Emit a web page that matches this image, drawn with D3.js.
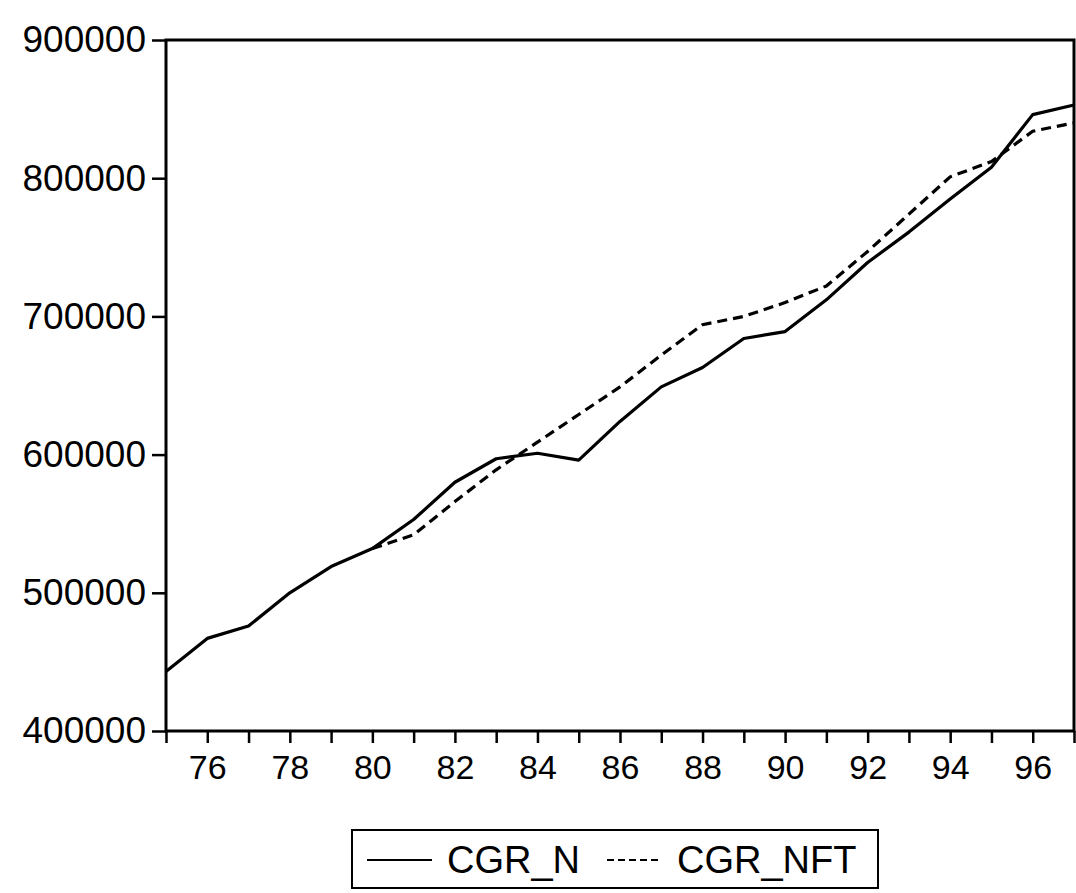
<!DOCTYPE html>
<html>
<head>
<meta charset="utf-8">
<script src="https://cdn.jsdelivr.net/npm/d3@7"></script>
<style>
  body { margin: 0; background: #fff; }
  text { font-family: "Liberation Sans", Arial, sans-serif; fill: #000; }
</style>
</head>
<body>
<div id="chart"></div>
<script>
// years (two-digit, as printed)
const years = d3.range(75, 98);
// CGR_N (solid)
const cgrN = [443000, 467000, 476000, 500000, 519000, 532000, 553000, 580000, 597000, 601000,
  596000, 624000, 649000, 663000, 684000, 689000, 712000, 739000, 761000, 785000, 808000, 846000, 853000];
// CGR_NFT (dashed), starts in 80
const nftYears = d3.range(80, 98);
const cgrNft = [532000, 542000, 566000, 589000, 609000, 629000, 649000, 672000, 694000, 700000,
  710000, 722000, 747000, 774000, 801000, 812000, 834000, 840000];
const yTicks = [400000, 500000, 600000, 700000, 800000, 900000];
const xLabels = [76, 78, 80, 82, 84, 86, 88, 90, 92, 94, 96];
const legendNames = ["CGR_N", "CGR_NFT"];

const W = 1076, H = 893;
const margin = { top: 40, right: 2, bottom: 162, left: 166 };
const width = W - margin.left - margin.right,
  height = H - margin.top - margin.bottom;

const svg = d3.select("#chart").append("svg")
  .attr("width", W).attr("height", H);
const g = svg.append("g")
  .attr("transform", `translate(${margin.left},${margin.top})`);

const x = d3.scaleLinear().domain([75, 97]).range([0, width]);
const y = d3.scaleLinear().domain([400000, 900000]).range([height, 0]);

// y axis
const yAxis = g.append("g")
  .call(d3.axisLeft(y).tickValues(yTicks).tickFormat(d3.format("d")).tickSize(14).tickPadding(6));
yAxis.selectAll("text").style("font-size", "37px");

// x axis: ticks every year, labels every 2 years
const xAxis = g.append("g")
  .attr("transform", `translate(0,${height})`)
  .call(d3.axisBottom(x).tickValues(years).tickSize(12).tickPadding(12)
    .tickFormat(d => xLabels.includes(d) ? d : ""));
xAxis.selectAll("text").style("font-size", "34px");

g.selectAll(".domain").remove();
g.selectAll(".tick line").attr("stroke", "#000").attr("stroke-width", 2.5);

// frame
g.append("rect")
  .attr("x", 0).attr("y", 0).attr("width", width).attr("height", height)
  .attr("fill", "none").attr("stroke", "#000").attr("stroke-width", 3);

const line = d3.line()
  .x(d => x(d[0]))
  .y(d => y(d[1]));

g.append("path")
  .datum(d3.zip(years, cgrN))
  .attr("fill", "none").attr("stroke", "#000").attr("stroke-width", 3.2)
  .attr("stroke-linejoin", "round")
  .attr("d", line);

g.append("path")
  .datum(d3.zip(nftYears, cgrNft))
  .attr("fill", "none").attr("stroke", "#000").attr("stroke-width", 3.2)
  .attr("stroke-dasharray", "10,6")
  .attr("d", line);

// legend
const lg = svg.append("g").attr("transform", "translate(352,830)");
lg.append("rect").attr("width", 526).attr("height", 58)
  .attr("fill", "none").attr("stroke", "#000").attr("stroke-width", 2);
lg.append("line").attr("x1", 15).attr("x2", 80).attr("y1", 30).attr("y2", 30)
  .attr("stroke", "#000").attr("stroke-width", 2);
lg.append("text").attr("x", 95).attr("y", 43).style("font-size", "38px").text(legendNames[0]);
lg.append("line").attr("x1", 255).attr("x2", 310).attr("y1", 30).attr("y2", 30)
  .attr("stroke", "#000").attr("stroke-width", 2).attr("stroke-dasharray", "7,4");
lg.append("text").attr("x", 325).attr("y", 43).style("font-size", "38px").text(legendNames[1]);
</script>
</body>
</html>
